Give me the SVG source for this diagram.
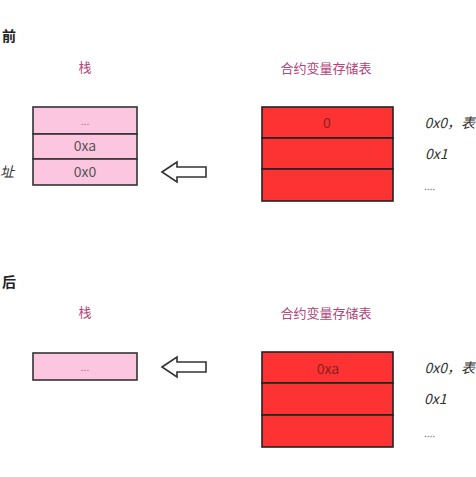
<svg xmlns="http://www.w3.org/2000/svg" width="476" height="477" viewBox="0 0 476 477">
<style>
text{font-family:"Noto Sans CJK SC","Liberation Sans",sans-serif;}
.title{font-size:14px;font-weight:bold;fill:#222;}
.lbl{font-size:13px;fill:#b2457a;text-anchor:middle;}
.pink{fill:#fdc6e0;stroke:#333;stroke-width:1.6;}
.red{fill:#fd3333;stroke:#222;stroke-width:1.6;}
.cell{font-size:14px;fill:#555;text-anchor:middle;}
.rcell{font-size:14px;fill:#8a1f1f;text-anchor:middle;}
.side{font-size:14px;fill:#333;font-style:italic;}
.dots{font-size:10px;fill:#777;}
.arrow{fill:#fff;stroke:#333;stroke-width:1.6;}
</style>
<rect width="476" height="477" fill="#fff"/>
<text class="title" x="2" y="41">前</text>
<text class="title" x="2" y="287">后</text>
<text class="side" x="0" y="177">址</text>

<g id="stack-before">
<text class="lbl" x="85" y="72">栈</text>
<rect class="pink" x="33" y="107" width="104" height="27"/>
<rect class="pink" x="33" y="134" width="104" height="25"/>
<rect class="pink" x="33" y="159" width="104" height="26"/>
<text class="cell dots" x="85" y="125">...</text>
<text class="cell" x="85" y="151">0xa</text>
<text class="cell" x="85" y="177">0x0</text>
</g>

<g id="table-before">
<text class="lbl" x="326" y="73">合约变量存储表</text>
<rect class="red" x="262" y="107" width="131" height="31"/>
<rect class="red" x="262" y="138" width="131" height="31"/>
<rect class="red" x="262" y="169" width="131" height="32"/>
<text class="rcell" x="327" y="128">0</text>
<text class="side" x="475" y="128" text-anchor="end">0x0，表</text>
<text class="side" x="425" y="159">0x1</text>
<text class="side dots" x="424" y="190">....</text>
</g>

<g id="stack-after">
<text class="lbl" x="85" y="317">栈</text>
<rect class="pink" x="33" y="353" width="104" height="27"/>
<text class="cell dots" x="85" y="371">...</text>
</g>

<g id="table-after">
<text class="lbl" x="326" y="318">合约变量存储表</text>
<rect class="red" x="262" y="352" width="131" height="31"/>
<rect class="red" x="262" y="383" width="131" height="32"/>
<rect class="red" x="262" y="415" width="131" height="32"/>
<text class="rcell" x="328" y="374">0xa</text>
<text class="side" x="475" y="373" text-anchor="end">0x0，表</text>
<text class="side" x="424" y="404">0x1</text>
<text class="side dots" x="424" y="437">....</text>
</g>

<g id="connectors">
<polygon class="arrow" points="162,172 177,162 177,167 206,167 206,177 177,177 177,182"/>
<polygon class="arrow" points="162,367 177,357 177,362 206,362 206,372 177,372 177,377"/>
</g>
</svg>
